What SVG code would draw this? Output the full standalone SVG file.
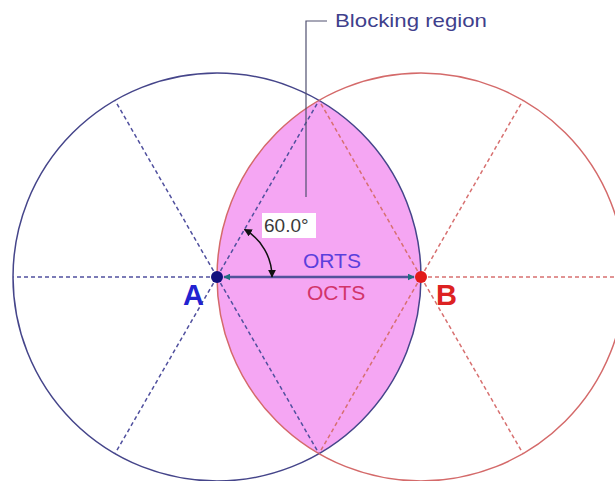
<svg xmlns="http://www.w3.org/2000/svg" width="615" height="481" viewBox="0 0 615 481">
<style>
.ca{fill:none;stroke:#45458a;stroke-width:1.5}
.cb{fill:none;stroke:#d46a6a;stroke-width:1.5}
.da{stroke:#50509e;stroke-width:1.5;stroke-dasharray:4 3;fill:none}
.db{stroke:#d77070;stroke-width:1.5;stroke-dasharray:4 3;fill:none}
.t{font-family:"Liberation Sans",Arial,sans-serif}
</style>
<defs>
<marker id="ah" viewBox="0 0 10 10" refX="9" refY="5" markerWidth="7" markerHeight="7" orient="auto-start-reverse" markerUnits="userSpaceOnUse">
<path d="M0,0 L10,5 L0,10 z" fill="#1f6f80"/>
</marker>
<marker id="ak" viewBox="0 0 10 10" refX="9" refY="5" markerWidth="8" markerHeight="8" orient="auto-start-reverse" markerUnits="userSpaceOnUse">
<path d="M0,0 L10,5 L0,10 z" fill="#111"/>
</marker>
</defs>
<rect width="615" height="481" fill="#fff"/>
<g id="lens">
<path d="M319,100.3 A204,204 0 0 1 319,453.7 A204,204 0 0 1 319,100.3 Z" fill="#f5a6f3"/>
</g>
<g id="circleA">
<circle class="ca" cx="217" cy="277" r="204"/>
</g>
<g id="circleB">
<circle class="cb" cx="421" cy="277" r="204"/>
</g>
<g id="connectors">
<line class="da" x1="217" y1="277" x2="13" y2="277"/>
<line class="da" x1="217" y1="277" x2="115" y2="100.3"/>
<line class="da" x1="217" y1="277" x2="115" y2="453.7"/>
<line class="da" x1="217" y1="277" x2="319" y2="100.3"/>
<line class="da" x1="217" y1="277" x2="319" y2="453.7"/>
<line class="db" x1="421" y1="277" x2="615" y2="277"/>
<line class="db" x1="421" y1="277" x2="523" y2="100.3"/>
<line class="db" x1="421" y1="277" x2="523" y2="453.7"/>
<line class="db" x1="421" y1="277" x2="319" y2="100.3"/>
<line class="db" x1="421" y1="277" x2="319" y2="453.7"/>
<line x1="224" y1="277" x2="414" y2="277" stroke="#52529a" stroke-width="2.5" marker-start="url(#ah)" marker-end="url(#ah)"/>
<path d="M272,277 A55,55 0 0 0 244.5,229.4" fill="none" stroke="#111" stroke-width="1.5" marker-start="url(#ak)" marker-end="url(#ak)"/>
<polyline points="306,197 306,21 327,21" fill="none" stroke="#505070" stroke-width="1.2"/>
</g>
<g id="pointA">
<circle cx="217" cy="277" r="6" fill="#12127e"/>
<text class="t" x="183" y="305" font-size="29" font-weight="bold" fill="#2222d0">A</text>
</g>
<g id="pointB">
<circle cx="421" cy="277" r="6" fill="#e21a1a"/>
<text class="t" x="436" y="305" font-size="29" font-weight="bold" fill="#dd2222">B</text>
</g>
<g id="angleLabel">
<rect x="262" y="213" width="54" height="25" fill="#fff"/>
<text class="t" x="264" y="232" font-size="19" fill="#3a3a3a">60.0°</text>
</g>
<g id="orts">
<text class="t" x="303" y="268" font-size="21" fill="#5b3fdc">ORTS</text>
</g>
<g id="octs">
<text class="t" x="307" y="300" font-size="21" fill="#d2346a">OCTS</text>
</g>
<g id="blockingLabel">
<text class="t" x="335" y="27" font-size="19" fill="#3f3f8c" textLength="152" lengthAdjust="spacingAndGlyphs">Blocking region</text>
</g>
</svg>
